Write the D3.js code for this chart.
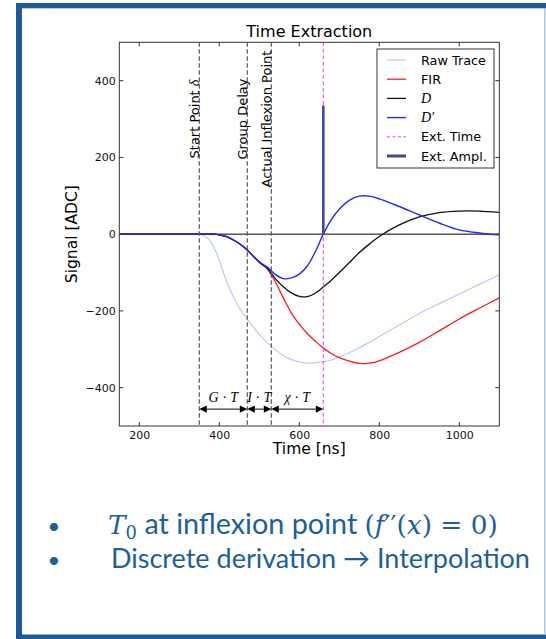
<!DOCTYPE html>
<html><head><meta charset="utf-8">
<script src="https://cdn.jsdelivr.net/npm/d3@7"></script>
<style>
html,body{margin:0;padding:0;background:#fff;}
svg{display:block;}
</style></head>
<body>
<svg id="chart" width="546" height="639"></svg>
<script>
// ---------------- data ----------------
const times     = [150,300,340,350,360,370,380,390,400,420,440,460,480,500,520,540,560,580,600,620,640,660,680,700,725,750,775,800,850,900,950,1000,1050,1100];
const rawTrace  = [0,0,0,0,-3,-10,-22,-42,-68,-128,-174,-208,-236,-261,-283,-301,-316,-327,-333,-336,-335,-333,-328,-320,-309,-296,-282,-267,-237,-207,-181,-156,-131,-106];
const firTrace  = [0,0,0,0,0,0,0,0,-2,-7,-18,-32,-52,-73,-91,-124,-166,-205,-235,-259,-279,-297,-311,-322,-331,-337,-336,-330,-308,-282,-252,-221,-193,-166];
const dTrace    = [0,0,0,0,0,0,0,0,-2,-7,-18,-32,-52,-73,-89,-116,-137,-153,-162,-163,-154,-138,-120,-100,-74,-48,-26,-6,24,45,56,60,60,57];
const dPrime    = [0,0,0,0,0,0,0,0,-2,-7,-18,-32,-52,-72,-86,-105,-116,-114,-104,-83,-46,0,38,65,88,99,99,92,72,50,29,11,3,-2];
const markerTimes  = [350, 470, 530];
const markerLabels = ["Start Point ", "Group Delay", "Actual Inflexion Point"];
const markerMath   = ["δ", "", ""];
const extTime = 660;
const extAmpl = 335;
const spanStarts = [350, 470, 530];
const spanEnds   = [470, 530, 660];
const spanLabels = [["G","T"],["I","T"],["χ","T"]];
const xTicks = [200, 400, 600, 800, 1000];
const yTicks = [-400, -200, 0, 200, 400];
const legendLabels = ["Raw Trace", "FIR", "D", "D′", "Ext. Time", "Ext. Ampl."];
const bullets = ["T0 at inflexion point (f''(x) = 0)", "Discrete derivation → Interpolation"];

// ---------------- layout ----------------
const svg = d3.select("#chart");
const W = 546, H = 639;
const L = 119.3, R = 499.3, T = 42.3, B = 426;
const x = d3.scaleLinear().domain([150, 1100]).range([L, R]);
const y = d3.scaleLinear().domain([-500, 500]).range([B, T]);
const blue = "#1c5b97";

// frame
svg.append("rect").attr("x",0).attr("y",0).attr("width",W).attr("height",H).attr("fill","#fff");
svg.append("rect").attr("x",16).attr("y",3).attr("width",W-16).attr("height",5.3).attr("fill",blue);
svg.append("rect").attr("x",16).attr("y",3).attr("width",6).attr("height",H-3).attr("fill",blue);
svg.append("rect").attr("x",16).attr("y",634.5).attr("width",W-16).attr("height",4.5).attr("fill",blue);
svg.append("rect").attr("x",544).attr("y",8).attr("width",1.5).attr("height",627).attr("fill","#b3c6dc");

const g = svg.append("g");
const clip = svg.append("clipPath").attr("id","plotclip");
clip.append("rect").attr("x",L).attr("y",T).attr("width",R-L).attr("height",B-T);
const plot = g.append("g").attr("clip-path","url(#plotclip)");

// zero line
plot.append("line").attr("x1",x(150)).attr("x2",x(1100)).attr("y1",y(0)).attr("y2",y(0))
  .attr("stroke","#000").attr("stroke-width",1);

const line = d3.line().x((d,i)=>x(times[i])).y(d=>y(d)).curve(d3.curveCatmullRom.alpha(0.5));
const series = [
  {v: rawTrace, c: "#b7cbf5", w: 1.2},
  {v: firTrace, c: "#ff1a1a", w: 1.3},
  {v: dTrace,   c: "#111111", w: 1.3},
  {v: dPrime,   c: "#2525ff", w: 1.4}
];
series.forEach(s => {
  plot.append("path").attr("d", line(s.v)).attr("fill","none")
    .attr("stroke", s.c).attr("stroke-width", s.w).attr("stroke-linejoin","round");
});

// marker dashed lines
markerTimes.forEach(t => {
  plot.append("line").attr("x1",x(t)).attr("x2",x(t)).attr("y1",T).attr("y2",B)
    .attr("stroke","#555").attr("stroke-width",1.2).attr("stroke-dasharray","4.5,2.5");
});
// ext time
plot.append("line").attr("x1",x(extTime)).attr("x2",x(extTime)).attr("y1",T).attr("y2",B)
  .attr("stroke","#f040f0").attr("stroke-width",1).attr("stroke-dasharray","4,2.5");
// ext ampl
plot.append("line").attr("x1",x(extTime)).attr("x2",x(extTime)).attr("y1",y(0)).attr("y2",y(extAmpl))
  .attr("stroke","#45459c").attr("stroke-width",2.6);

// rotated labels
markerTimes.forEach((t,i) => {
  const tx = g.append("text").attr("transform",`translate(${x(t)-0.5},${y(300)}) rotate(-90)`)
    .attr("text-anchor","middle").attr("font-family","DejaVu Sans").attr("font-size",13)
    .attr("fill","#000");
  tx.append("tspan").text(markerLabels[i]);
  if (markerMath[i]) tx.append("tspan").attr("font-family","Liberation Serif").attr("font-style","italic")
    .attr("font-size",14).text(markerMath[i]);
});

// spans with arrows
const ay = y(-456);
const headL = 7.5, headH = 3.6;
spanStarts.forEach((s,i) => {
  const x0 = x(s), x1 = x(spanEnds[i]);
  g.append("line").attr("x1",x0+headL).attr("x2",x1-headL).attr("y1",ay).attr("y2",ay)
    .attr("stroke","#000").attr("stroke-width",1);
  g.append("path").attr("d",`M${x0},${ay}L${x0+headL},${ay-headH}L${x0+headL},${ay+headH}Z`).attr("fill","#000");
  g.append("path").attr("d",`M${x1},${ay}L${x1-headL},${ay-headH}L${x1-headL},${ay+headH}Z`).attr("fill","#000");
  const tx = g.append("text").attr("x",(x0+x1)/2).attr("y",y(-437)).attr("text-anchor","middle")
    .attr("font-family","Liberation Serif").attr("font-size",14).attr("fill","#000");
  tx.append("tspan").attr("font-style","italic").text(spanLabels[i][0]);
  tx.append("tspan").text(" · ");
  tx.append("tspan").attr("font-style","italic").text(spanLabels[i][1]);
});

// axes box
g.append("rect").attr("x",L).attr("y",T).attr("width",R-L).attr("height",B-T)
  .attr("fill","none").attr("stroke","#333").attr("stroke-width",1);

// ticks (inside, all sides)
const tl = 4;
xTicks.forEach(v => {
  g.append("line").attr("x1",x(v)).attr("x2",x(v)).attr("y1",B).attr("y2",B-tl).attr("stroke","#333");
  g.append("line").attr("x1",x(v)).attr("x2",x(v)).attr("y1",T).attr("y2",T+tl).attr("stroke","#333");
});
yTicks.forEach(v => {
  g.append("line").attr("x1",L).attr("x2",L+tl).attr("y1",y(v)).attr("y2",y(v)).attr("stroke","#333");
  g.append("line").attr("x1",R).attr("x2",R-tl).attr("y1",y(v)).attr("y2",y(v)).attr("stroke","#333");
});
const fmt = v => (v < 0 ? "\u2212" + Math.abs(v) : String(v));
const xAxis = d3.axisBottom(x).tickValues(xTicks).tickSize(0).tickPadding(0).tickFormat(fmt);
const xa = g.append("g").attr("transform",`translate(0,${B})`).call(xAxis);
xa.select(".domain").remove();
xa.selectAll("text").attr("font-family","DejaVu Sans").attr("font-size",11).attr("fill","#111")
  .attr("dy",null).attr("y",12.5);
const yAxis = d3.axisLeft(y).tickValues(yTicks).tickSize(0).tickPadding(0).tickFormat(fmt);
const ya = g.append("g").attr("transform",`translate(${L-3.5},0)`).call(yAxis);
ya.select(".domain").remove();
ya.selectAll("text").attr("font-family","DejaVu Sans").attr("font-size",11).attr("fill","#111");

// titles
g.append("text").attr("x",(L+R)/2).attr("y",37).attr("text-anchor","middle")
  .attr("font-family","DejaVu Sans").attr("font-size",16).attr("fill","#000").text("Time Extraction");
g.append("text").attr("x",(L+R)/2).attr("y",454).attr("text-anchor","middle")
  .attr("font-family","DejaVu Sans").attr("font-size",15.5).attr("fill","#000").text("Time [ns]");
g.append("text").attr("transform",`translate(77,${(T+B)/2}) rotate(-90)`).attr("text-anchor","middle")
  .attr("font-family","DejaVu Sans").attr("font-size",15.5).attr("fill","#000").text("Signal [ADC]");

// legend
const lg = g.append("g");
lg.append("rect").attr("x",377).attr("y",49).attr("width",117).attr("height",119)
  .attr("fill","#fff").attr("stroke","#333").attr("stroke-width",1);
const legStyles = [
  {c:"#c9d8f7", w:1.6, d:null},
  {c:"#ff1a1a", w:1.3, d:null},
  {c:"#111", w:1.3, d:null},
  {c:"#2525ff", w:1.4, d:null},
  {c:"#f040f0", w:1, d:"3,2.5"},
  {c:"#45459c", w:3, d:null}
];
legendLabels.forEach((lab,i) => {
  const cy = 60 + i*19.2;
  lg.append("line").attr("x1",387).attr("x2",406).attr("y1",cy).attr("y2",cy)
    .attr("stroke",legStyles[i].c).attr("stroke-width",legStyles[i].w)
    .attr("stroke-dasharray",legStyles[i].d);
  const t = lg.append("text").attr("x",421).attr("y",cy+4.6).attr("fill","#000").attr("font-size",12.8);
  if (i === 2 || i === 3) {
    t.attr("font-family","Liberation Serif").attr("font-style","italic").attr("font-size",14).text(lab);
  } else {
    t.attr("font-family","DejaVu Sans").text(lab);
  }
});

// bottom bullets
const txtBlue = "#1d5e9c";
const bf = "Lato";
[534, 568].forEach(yy => {
  svg.append("text").attr("x",54).attr("y",yy).attr("text-anchor","middle")
    .attr("font-family",bf).attr("font-size",22).attr("fill",txtBlue).text("•");
});
// line 1 (math parts in serif italic)
const l1 = svg.append("text").attr("x",108).attr("y",534).attr("fill",txtBlue)
  .attr("font-family",bf).attr("font-size",24);
l1.append("tspan").attr("font-family","DejaVu Serif").attr("font-style","italic").attr("font-size",22).text("T");
l1.append("tspan").attr("font-family","DejaVu Serif").attr("font-size",15).attr("dy",5).text("0");
l1.append("tspan").attr("dy",-5).text(" at inflexion point ");
l1.append("tspan").attr("font-family","DejaVu Serif").attr("font-size",22).text("(");
l1.append("tspan").attr("font-family","DejaVu Serif").attr("font-style","italic").attr("font-size",22).text("f");
l1.append("tspan").attr("font-family","DejaVu Serif").attr("font-size",22).text("′′(");
l1.append("tspan").attr("font-family","DejaVu Serif").attr("font-style","italic").attr("font-size",22).text("x");
l1.append("tspan").attr("font-family","DejaVu Serif").attr("font-size",22).text(") = 0)");
// line 2
const l2 = svg.append("text").attr("x",111).attr("y",568).attr("fill",txtBlue)
  .attr("font-family",bf).attr("font-size",24).text(bullets[1]);
// fit widths
const w2 = l2.node().getComputedTextLength();
if (w2 > 0) l2.attr("font-size", 24 * 419 / w2);
const w1 = l1.node().getComputedTextLength();
if (w1 > 0) {
  const k = 390 / w1;
  l1.selectAll("tspan").each(function(){
    const fs = +d3.select(this).attr("font-size") || 24;
    d3.select(this).attr("font-size", fs * k);
  });
}
</script>
</body></html>
